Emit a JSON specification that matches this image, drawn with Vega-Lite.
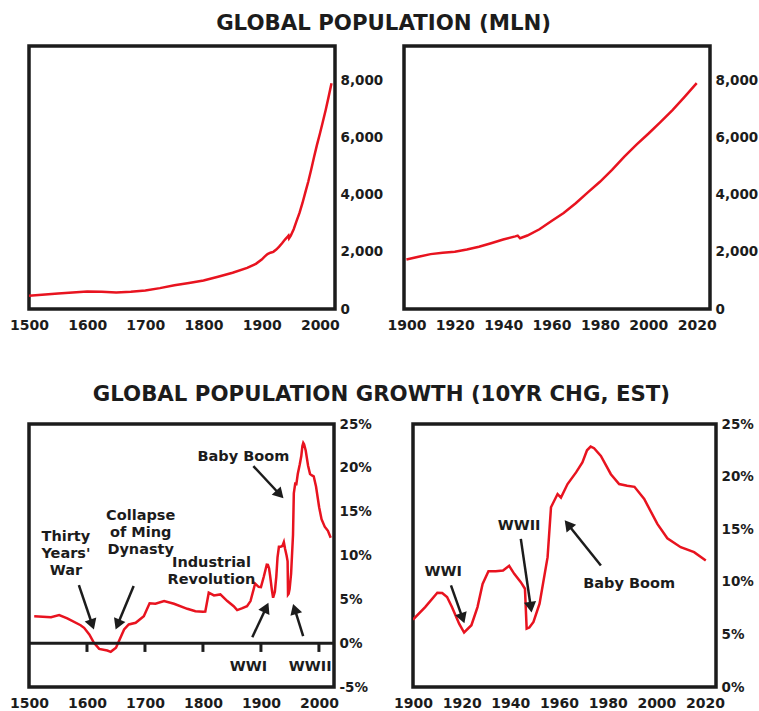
{
  "$schema": "https://vega.github.io/schema/vega-lite/v6.json",
  "padding": {"left": 7, "top": 12, "right": 0, "bottom": 0},
  "background": "white",
  "config": {
    "view": {"stroke": "#1c1c1c", "strokeWidth": 3.5},
    "axis": {"domain": false, "ticks": false, "grid": false, "labelFont": "DejaVu Sans", "labelFontSize": 14, "labelFontWeight": "bold", "labelColor": "#1c1c1c", "title": null, "labelFlush": false, "labelOverlap": false},
    "axisX": {"labelPadding": 9},
    "axisY": {"labelPadding": 5, "labelFontSize": 13.5},
    "title": {"font": "DejaVu Sans", "fontSize": 21.3, "fontWeight": "bold", "color": "#1c1c1c", "offset": 10},
    "text": {"font": "DejaVu Sans", "fontSize": 14.5, "fontWeight": "bold", "color": "#1c1c1c"}
  },
  "datasets": {
    "pop": [
      {"year": 1500, "pop": 465}, {"year": 1550, "pop": 540}, {"year": 1600, "pop": 610}, {"year": 1625, "pop": 600},
      {"year": 1650, "pop": 575}, {"year": 1675, "pop": 600}, {"year": 1700, "pop": 650}, {"year": 1725, "pop": 730},
      {"year": 1750, "pop": 830}, {"year": 1775, "pop": 910}, {"year": 1800, "pop": 1000}, {"year": 1825, "pop": 1130},
      {"year": 1850, "pop": 1270}, {"year": 1875, "pop": 1440}, {"year": 1890, "pop": 1580}, {"year": 1900, "pop": 1730},
      {"year": 1905, "pop": 1830}, {"year": 1910, "pop": 1920}, {"year": 1915, "pop": 1970}, {"year": 1920, "pop": 2000},
      {"year": 1925, "pop": 2080}, {"year": 1930, "pop": 2180}, {"year": 1935, "pop": 2300}, {"year": 1940, "pop": 2430},
      {"year": 1945, "pop": 2540}, {"year": 1946, "pop": 2565}, {"year": 1947, "pop": 2475}, {"year": 1950, "pop": 2570},
      {"year": 1955, "pop": 2790}, {"year": 1960, "pop": 3080}, {"year": 1965, "pop": 3360}, {"year": 1970, "pop": 3700},
      {"year": 1975, "pop": 4080}, {"year": 1980, "pop": 4450}, {"year": 1985, "pop": 4870}, {"year": 1990, "pop": 5320},
      {"year": 1995, "pop": 5740}, {"year": 2000, "pop": 6130}, {"year": 2005, "pop": 6540}, {"year": 2010, "pop": 6960},
      {"year": 2015, "pop": 7420}, {"year": 2020, "pop": 7900}
    ],
    "growth": [
      {"year": 1509, "chg": 3.08}, {"year": 1538, "chg": 2.97}, {"year": 1552, "chg": 3.2}, {"year": 1566, "chg": 2.82},
      {"year": 1589, "chg": 2.05}, {"year": 1595, "chg": 1.75}, {"year": 1604, "chg": 0.99}, {"year": 1612, "chg": 0.04},
      {"year": 1621, "chg": -0.65}, {"year": 1635, "chg": -0.84}, {"year": 1641, "chg": -0.99}, {"year": 1650, "chg": -0.53},
      {"year": 1655, "chg": 0.23}, {"year": 1664, "chg": 1.56}, {"year": 1672, "chg": 2.13}, {"year": 1684, "chg": 2.32},
      {"year": 1698, "chg": 3.08}, {"year": 1708, "chg": 4.55}, {"year": 1718, "chg": 4.49}, {"year": 1733, "chg": 4.8},
      {"year": 1750, "chg": 4.49}, {"year": 1773, "chg": 3.92}, {"year": 1787, "chg": 3.65}, {"year": 1800, "chg": 3.58},
      {"year": 1804, "chg": 3.6}, {"year": 1810, "chg": 5.75}, {"year": 1819, "chg": 5.44}, {"year": 1830, "chg": 5.56},
      {"year": 1842, "chg": 4.8}, {"year": 1853, "chg": 4.22}, {"year": 1859, "chg": 3.77}, {"year": 1867, "chg": 3.96},
      {"year": 1876, "chg": 4.22}, {"year": 1882, "chg": 4.8}, {"year": 1890, "chg": 6.8}, {"year": 1896, "chg": 6.43},
      {"year": 1900, "chg": 6.4}, {"year": 1905, "chg": 7.6}, {"year": 1910, "chg": 8.96}, {"year": 1912, "chg": 8.93},
      {"year": 1914, "chg": 8.55}, {"year": 1916, "chg": 7.6}, {"year": 1919, "chg": 6.0}, {"year": 1921, "chg": 5.18},
      {"year": 1924, "chg": 5.87}, {"year": 1926.5, "chg": 7.6}, {"year": 1928.6, "chg": 9.8}, {"year": 1931, "chg": 11.0},
      {"year": 1934, "chg": 11.0}, {"year": 1937, "chg": 11.08}, {"year": 1939.5, "chg": 11.52}, {"year": 1941.6, "chg": 10.76},
      {"year": 1944.3, "chg": 9.97}, {"year": 1946, "chg": 9.34}, {"year": 1946.7, "chg": 5.55}, {"year": 1947.8, "chg": 5.65},
      {"year": 1949.5, "chg": 6.19}, {"year": 1952, "chg": 7.92}, {"year": 1955.3, "chg": 12.34}, {"year": 1956.7, "chg": 17.08},
      {"year": 1959.4, "chg": 18.34}, {"year": 1960.8, "chg": 18.0}, {"year": 1963.5, "chg": 19.29}, {"year": 1967, "chg": 20.4},
      {"year": 1969.6, "chg": 21.34}, {"year": 1971.5, "chg": 22.5}, {"year": 1973, "chg": 22.85}, {"year": 1974.4, "chg": 22.7},
      {"year": 1977.2, "chg": 21.97}, {"year": 1981.3, "chg": 20.23}, {"year": 1984.7, "chg": 19.29}, {"year": 1988, "chg": 19.13},
      {"year": 1991, "chg": 19.03}, {"year": 1995, "chg": 17.87}, {"year": 2000.4, "chg": 15.5}, {"year": 2004.5, "chg": 14.14},
      {"year": 2010, "chg": 13.29}, {"year": 2015.5, "chg": 12.82}, {"year": 2020.3, "chg": 12.03}
    ],
    "ticks_bl": [{"year": 1600}, {"year": 1700}, {"year": 1800}, {"year": 1900}, {"year": 2000}],
    "zero_bl": [{"chg": 0}],
    "labels_bl": [
      {"label": ["Thirty", "Years'", "War"], "year": 1563.6, "chg": 12.1},
      {"label": ["Collapse", "of Ming", "Dynasty"], "year": 1692.6, "chg": 14.45},
      {"label": ["Industrial", "Revolution"], "year": 1814.6, "chg": 9.13},
      {"label": "Baby Boom", "year": 1869.7, "chg": 21.23},
      {"label": "WWI", "year": 1878.3, "chg": -2.74},
      {"label": "WWII", "year": 1984.9, "chg": -2.74}
    ],
    "arrows_bl": [
      {"x1": 1586.0, "y1": 6.62, "x2": 1609.0, "y2": 2.13, "angle": 161.2},
      {"x1": 1680.5, "y1": 6.51, "x2": 1652.9, "y2": 2.12, "angle": 202.7},
      {"x1": 1886.9, "y1": 20.2, "x2": 1932.6, "y2": 16.96, "angle": 136.8},
      {"x1": 1885.1, "y1": 0.68, "x2": 1909.0, "y2": 4.05, "angle": 25.2},
      {"x1": 1972.8, "y1": 0.8, "x2": 1958.2, "y2": 3.9, "angle": -17.4}
    ],
    "labels_br": [
      {"label": "WWI", "year": 1912.4, "chg": 10.92},
      {"label": "WWII", "year": 1943.6, "chg": 15.34},
      {"label": "Baby Boom", "year": 1988.8, "chg": 9.82}
    ],
    "arrows_br": [
      {"x1": 1915.6, "y1": 9.66, "x2": 1920.4, "y2": 6.53, "angle": 160.6},
      {"x1": 1944.3, "y1": 14.08, "x2": 1948.4, "y2": 7.59, "angle": 171.7},
      {"x1": 1977.2, "y1": 11.55, "x2": 1963.7, "y2": 15.45, "angle": -38.7}
    ]
  },
  "spacing": 49,
  "vconcat": [
    {
      "title": {"text": "GLOBAL POPULATION (MLN)", "anchor": "middle"},
      "bounds": "flush",
      "spacing": 69,
      "hconcat": [
        {
          "width": 306, "height": 263,
          "data": {"name": "pop"},
          "mark": {"type": "line", "color": "#e8131f", "strokeWidth": 2.5, "clip": true},
          "encoding": {
            "x": {"field": "year", "type": "quantitative", "scale": {"domain": [1500, 2026], "nice": false, "zero": false}, "axis": {"values": [1500, 1600, 1700, 1800, 1900, 2000], "format": "d"}},
            "y": {"field": "pop", "type": "quantitative", "scale": {"domain": [0, 9200], "nice": false}, "axis": {"orient": "right", "values": [0, 2000, 4000, 6000, 8000], "format": ",d"}}
          }
        },
        {
          "width": 306, "height": 263,
          "data": {"name": "pop"},
          "transform": [{"filter": "datum.year >= 1900"}],
          "mark": {"type": "line", "color": "#e8131f", "strokeWidth": 2.5, "clip": true},
          "encoding": {
            "x": {"field": "year", "type": "quantitative", "scale": {"domain": [1899, 2025.5], "nice": false, "zero": false}, "axis": {"values": [1900, 1920, 1940, 1960, 1980, 2000, 2020], "format": "d"}},
            "y": {"field": "pop", "type": "quantitative", "scale": {"domain": [0, 9200], "nice": false}, "axis": {"orient": "right", "values": [0, 2000, 4000, 6000, 8000], "format": ",d"}}
          }
        }
      ]
    },
    {
      "title": {"text": "GLOBAL POPULATION GROWTH (10YR CHG, EST)", "anchor": "middle"},
      "bounds": "flush",
      "spacing": 79,
      "hconcat": [
        {
          "width": 305, "height": 263,
          "layer": [
            {
              "data": {"name": "growth"},
              "mark": {"type": "line", "color": "#e8131f", "strokeWidth": 2.5, "clip": true},
              "encoding": {
                "x": {"field": "year", "type": "quantitative", "scale": {"domain": [1500, 2026], "nice": false, "zero": false}, "axis": {"values": [1500, 1600, 1700, 1800, 1900, 2000], "format": "d"}},
                "y": {"field": "chg", "type": "quantitative", "scale": {"domain": [-5, 25], "nice": false}, "axis": {"orient": "right", "values": [-5, 0, 5, 10, 15, 20, 25], "labelExpr": "datum.value + '%'"}}
              }
            },
            {
              "data": {"name": "ticks_bl"},
              "mark": {"type": "rule", "color": "#1c1c1c", "strokeWidth": 3},
              "encoding": {
                "x": {"field": "year", "type": "quantitative"},
                "y": {"datum": 0},
                "y2": {"datum": -1.0}
              }
            },
            {
              "data": {"name": "zero_bl"},
              "mark": {"type": "rule", "color": "#1c1c1c", "strokeWidth": 3},
              "encoding": {"y": {"field": "chg", "type": "quantitative"}}
            },
            {
              "data": {"name": "arrows_bl"},
              "mark": {"type": "rule", "color": "#1c1c1c", "strokeWidth": 2.5},
              "encoding": {
                "x": {"field": "x1", "type": "quantitative"},
                "y": {"field": "y1", "type": "quantitative"},
                "x2": {"field": "x2"},
                "y2": {"field": "y2"}
              }
            },
            {
              "data": {"name": "arrows_bl"},
              "mark": {"type": "point", "shape": "triangle-up", "filled": true, "color": "#1c1c1c", "size": 150, "opacity": 1},
              "encoding": {
                "x": {"field": "x2", "type": "quantitative"},
                "y": {"field": "y2", "type": "quantitative"},
                "angle": {"field": "angle", "type": "quantitative", "scale": null}
              }
            },
            {
              "data": {"name": "labels_bl"},
              "mark": {"type": "text", "lineHeight": 17, "baseline": "middle", "align": "center"},
              "encoding": {
                "x": {"field": "year", "type": "quantitative"},
                "y": {"field": "chg", "type": "quantitative"},
                "text": {"field": "label"}
              }
            }
          ]
        },
        {
          "width": 303, "height": 263,
          "layer": [
            {
              "data": {"name": "growth"},
              "transform": [{"filter": "datum.year >= 1900"}],
              "mark": {"type": "line", "color": "#e8131f", "strokeWidth": 2.5, "clip": true},
              "encoding": {
                "x": {"field": "year", "type": "quantitative", "scale": {"domain": [1900, 2024.5], "nice": false, "zero": false}, "axis": {"values": [1900, 1920, 1940, 1960, 1980, 2000, 2020], "format": "d"}},
                "y": {"field": "chg", "type": "quantitative", "scale": {"domain": [0, 25], "nice": false}, "axis": {"orient": "right", "values": [0, 5, 10, 15, 20, 25], "labelExpr": "datum.value + '%'"}}
              }
            },
            {
              "data": {"name": "arrows_br"},
              "mark": {"type": "rule", "color": "#1c1c1c", "strokeWidth": 2.5},
              "encoding": {
                "x": {"field": "x1", "type": "quantitative"},
                "y": {"field": "y1", "type": "quantitative"},
                "x2": {"field": "x2"},
                "y2": {"field": "y2"}
              }
            },
            {
              "data": {"name": "arrows_br"},
              "mark": {"type": "point", "shape": "triangle-up", "filled": true, "color": "#1c1c1c", "size": 150, "opacity": 1},
              "encoding": {
                "x": {"field": "x2", "type": "quantitative"},
                "y": {"field": "y2", "type": "quantitative"},
                "angle": {"field": "angle", "type": "quantitative", "scale": null}
              }
            },
            {
              "data": {"name": "labels_br"},
              "mark": {"type": "text", "baseline": "middle", "align": "center"},
              "encoding": {
                "x": {"field": "year", "type": "quantitative"},
                "y": {"field": "chg", "type": "quantitative"},
                "text": {"field": "label"}
              }
            }
          ]
        }
      ]
    }
  ]
}
